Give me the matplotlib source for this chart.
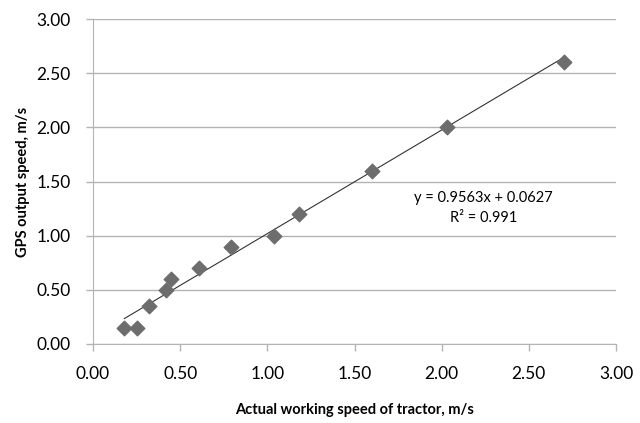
import matplotlib.pyplot as plt
import numpy as np

actual_speed = [0.18, 0.25, 0.32, 0.42, 0.45, 0.61, 0.79, 1.04, 1.18, 1.60, 2.03, 2.70]
gps_speed = [0.15, 0.15, 0.35, 0.50, 0.60, 0.70, 0.90, 1.00, 1.20, 1.60, 2.00, 2.60]

# linear trendline as reported on the chart
slope = 0.9563
intercept = 0.0627
r_squared = 0.991

ticks = [0.0, 0.5, 1.0, 1.5, 2.0, 2.5, 3.0]

plt.rcParams['font.family'] = ['Lato', 'DejaVu Sans']

fig = plt.figure(figsize=(6.4, 4.23), dpi=100)
ax = fig.add_axes([93 / 640, 1 - 344 / 423, (616 - 93) / 640, (344 - 19) / 423])

grid_col = '#b3b3b3'
ax.set_xlim(0, 3)
ax.set_ylim(0, 3)
ax.set_xticks(ticks)
ax.set_yticks(ticks)
ax.set_xticklabels([f"{t:.2f}" for t in ticks], fontsize=12.5)
ax.set_yticklabels([f"{t:.2f}" for t in ticks], fontsize=12.5)
ax.yaxis.grid(True, color=grid_col, linewidth=1)
ax.set_axisbelow(True)

for side in ['top', 'right']:
    ax.spines[side].set_visible(False)
for side in ['left', 'bottom']:
    ax.spines[side].set_color(grid_col)
ax.tick_params(axis='both', color=grid_col, length=5, width=1, direction='out')
ax.tick_params(axis='x', pad=11)
ax.tick_params(axis='y', pad=11)

# trendline over the data range
xs = np.array([min(actual_speed), max(actual_speed)])
ax.plot(xs, slope * xs + intercept, color='#333333', linewidth=0.8, zorder=2)

ax.scatter(actual_speed, gps_speed, marker='D', s=55, color='#6d6d6d',
           edgecolors='#6d6d6d', zorder=3)

ax.text(2.24, 1.35, f"y = {slope}x + {intercept}", ha='center', va='center', fontsize=10.5)
ax.text(2.24, 1.165, f"R² = {r_squared}", ha='center', va='center', fontsize=10.5)

ax.set_xlabel("Actual working speed of tractor, m/s", fontsize=10.5, fontweight='bold', labelpad=15)
ax.set_ylabel("GPS output speed, m/s", fontsize=10.5, fontweight='bold', labelpad=5)

fig.savefig("out.png", dpi=100)
